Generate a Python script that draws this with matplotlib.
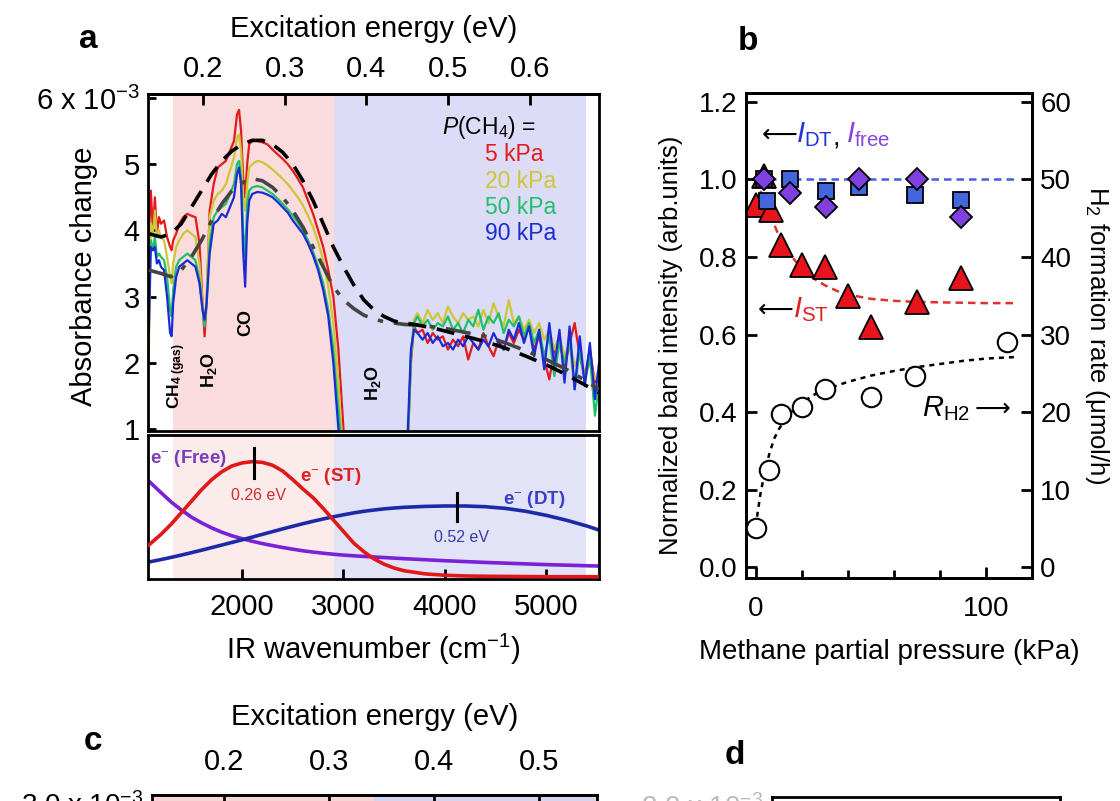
import matplotlib
matplotlib.use('Agg')
from matplotlib import pyplot as plt

plt.rcParams['font.family'] = ['Liberation Sans', 'DejaVu Sans']
plt.rcParams['mathtext.fontset'] = 'custom'
plt.rcParams['mathtext.rm'] = 'Liberation Sans'
plt.rcParams['mathtext.it'] = 'Liberation Sans:italic'
plt.rcParams['mathtext.bf'] = 'Liberation Sans:bold'

# ---------------- panel a: IR spectra (absorbance change, x 10^-3) ----------------
wn_left = [1080, 1100, 1120, 1140, 1160, 1180, 1200, 1230, 1260, 1290, 1305, 1320, 1350, 1380,
           1420, 1460, 1500, 1540, 1580, 1610, 1630, 1650, 1680, 1720, 1760, 1800, 1840, 1880,
           1920, 1950, 1970, 1990, 2010, 2030, 2050, 2070, 2100, 2150, 2200, 2250, 2300, 2350,
           2400, 2450, 2500, 2550, 2600, 2650, 2700, 2750, 2800, 2850, 2900, 2950, 3000, 3050]
abs_5kpa_left = [3.9, 4.6, 4.0, 4.5, 3.95, 4.2, 4.1, 4.15, 3.9, 3.75, 3.7, 3.85, 3.95, 4.1,
                 4.2, 4.25, 4.22, 4.2, 3.8, 2.9, 2.4, 2.9, 4.3, 4.7, 4.95, 5.0, 5.05, 5.2,
                 5.35, 5.75, 5.82, 5.5, 4.8, 4.5, 5.0, 5.3, 5.35, 5.35, 5.33, 5.3, 5.22, 5.15,
                 5.08, 5.0, 4.9, 4.78, 4.65, 4.45, 4.25, 4.0, 3.75, 3.4, 3.0, 2.2, 1.0, 0.2]
abs_20kpa_left = [2.1, 4.1, 3.95, 4.3, 3.9, 4.0, 3.9, 3.85, 3.6, 3.3, 3.2, 3.5, 3.75, 3.85,
                  3.95, 4.0, 3.95, 3.9, 3.5, 2.9, 2.6, 3.0, 4.2, 4.45, 4.55, 4.6, 4.7, 4.9,
                  5.1, 5.4, 5.45, 5.2, 4.5, 4.3, 4.7, 4.95, 5.0, 5.05, 5.03, 4.98, 4.92, 4.85,
                  4.78, 4.7, 4.6, 4.5, 4.38, 4.22, 4.05, 3.82, 3.55, 3.15, 2.6, 1.7, 0.5, 0.2]
abs_50kpa_left = [3.2, 3.85, 3.7, 3.9, 3.6, 3.65, 3.6, 3.55, 3.3, 2.8, 2.7, 3.1, 3.45, 3.55,
                  3.6, 3.65, 3.6, 3.55, 3.25, 2.8, 2.55, 2.9, 3.8, 4.2, 4.3, 4.35, 4.4, 4.55,
                  4.7, 5.0, 5.05, 4.8, 4.0, 3.6, 4.4, 4.6, 4.65, 4.67, 4.65, 4.6, 4.55, 4.48,
                  4.4, 4.32, 4.22, 4.12, 4.0, 3.85, 3.68, 3.45, 3.2, 2.8, 2.2, 1.3, 0.4, 0.2]
abs_90kpa_left = [2.45, 3.75, 3.7, 3.75, 3.5, 3.55, 3.45, 3.4, 3.0, 2.45, 2.4, 2.9, 3.3, 3.45,
                  3.5, 3.55, 3.5, 3.45, 3.2, 2.8, 2.65, 2.9, 3.65, 4.1, 4.15, 4.25, 4.2, 4.35,
                  4.5, 4.85, 4.95, 4.7, 3.7, 3.15, 4.1, 4.45, 4.55, 4.58, 4.57, 4.54, 4.5, 4.43,
                  4.35, 4.27, 4.15, 4.05, 3.95, 3.8, 3.62, 3.4, 3.1, 2.7, 2.0, 1.0, 0.3, 0.2]

wn_right = [3620, 3640, 3665, 3695, 3730, 3780, 3830, 3880, 3930, 3980, 4030, 4080, 4130, 4180,
            4230, 4280, 4330, 4380, 4430, 4480, 4530, 4580, 4630, 4680, 4730, 4780, 4830, 4880,
            4930, 4980, 5030, 5080, 5130, 5180, 5230, 5280, 5330, 5380, 5430, 5480, 5520]
abs_5kpa_right = [0.5, 1.0, 2.0, 2.55, 2.45, 2.5, 2.3, 2.45, 2.35, 2.4, 2.2, 2.35, 2.25, 2.4,
                  2.05, 2.3, 2.2, 2.45, 2.25, 2.1, 2.35, 2.2, 2.45, 2.3, 2.5, 2.35, 2.55, 2.2,
                  2.4, 2.05, 1.75, 2.2, 2.4, 1.9, 2.3, 2.6, 2.1, 1.8, 2.2, 1.7, 1.9]
abs_20kpa_right = [0.5, 1.0, 2.1, 2.65, 2.75, 2.6, 2.8, 2.65, 2.75, 2.6, 2.85, 2.7, 2.6, 2.75,
                   2.65, 2.7, 2.55, 2.8, 2.6, 2.9, 2.7, 2.55, 2.95, 2.6, 2.7, 2.5, 2.65, 2.45,
                   2.6, 2.35, 2.5, 2.2, 2.4, 2.1, 2.3, 1.95, 2.15, 1.8, 2.0, 1.75, 1.9]
abs_50kpa_right = [0.5, 1.0, 2.1, 2.6, 2.7, 2.55, 2.65, 2.5, 2.6, 2.55, 2.7, 2.5, 2.6, 2.45,
                   2.65, 2.55, 2.8, 2.5, 2.7, 2.6, 2.75, 2.45, 2.65, 2.55, 2.7, 2.4, 2.6, 2.3,
                   2.5, 2.1, 2.4, 1.8, 2.3, 2.0, 2.35, 1.6, 2.2, 1.7, 2.1, 1.2, 1.7]
abs_90kpa_right = [0.5, 1.2, 2.2, 2.5, 2.45, 2.35, 2.45, 2.3, 2.4, 2.25, 2.3, 2.2, 2.35, 2.25,
                   2.4, 2.3, 2.2, 2.35, 2.25, 2.45, 2.3, 2.2, 2.5, 2.35, 2.6, 2.3, 2.55, 2.1,
                   2.5, 1.9, 2.6, 1.95, 2.5, 1.7, 2.55, 1.6, 2.4, 1.65, 2.3, 1.45, 2.0]

pressure_labels = ['5 kPa', '20 kPa', '50 kPa', '90 kPa']
spectrum_colors = ['#e31a1c', '#cdc636', '#1fc06a', '#1a2bd6']

# fitted envelopes (dashed / dash-dot)
fit_wn = [1080, 1200, 1300, 1400, 1500, 1600, 1700, 1800, 1900, 2000, 2100, 2200, 2300, 2400,
          2500, 2600, 2700, 2800, 2900, 3000, 3100, 3200, 3300, 3400, 3500, 3600, 3700, 3800,
          3900, 4000, 4200, 4400, 4600, 4800, 5000, 5200, 5400, 5520]
fit_dash = [3.95, 3.9, 3.95, 4.1, 4.35, 4.6, 4.85, 5.05, 5.2, 5.3, 5.36, 5.36, 5.3, 5.18,
            5.0, 4.75, 4.45, 4.1, 3.75, 3.45, 3.18, 2.95, 2.8, 2.7, 2.63, 2.6, 2.58, 2.55,
            2.52, 2.48, 2.4, 2.32, 2.22, 2.1, 1.97, 1.82, 1.65, 1.55]
fit_dashdot = [3.4, 3.35, 3.3, 3.4, 3.6, 3.85, 4.15, 4.4, 4.6, 4.72, 4.78, 4.75, 4.65, 4.5,
               4.3, 4.05, 3.75, 3.45, 3.15, 2.95, 2.82, 2.72, 2.66, 2.62, 2.6, 2.58, 2.57, 2.56,
               2.54, 2.52, 2.46, 2.4, 2.3, 2.18, 2.05, 1.9, 1.72, 1.6]

# component bands (lower part of panel a, arb. units)
comp_wn = [1080, 1200, 1300, 1400, 1500, 1600, 1700, 1800, 1900, 2000, 2100, 2200, 2300, 2400,
           2500, 2600, 2700, 2800, 2900, 3000, 3100, 3200, 3300, 3400, 3500, 3600, 3800, 4000,
           4200, 4400, 4600, 4800, 5000, 5200, 5400, 5520]
band_st = [0.236, 0.31, 0.38, 0.46, 0.54, 0.62, 0.69, 0.745, 0.785, 0.806, 0.815, 0.81, 0.79, 0.75,
           0.69, 0.625, 0.565, 0.49, 0.41, 0.33, 0.25, 0.19, 0.14, 0.103, 0.076, 0.057, 0.036, 0.026,
           0.021, 0.019, 0.018, 0.017, 0.016, 0.016, 0.016, 0.016]
band_dt = [0.118, 0.135, 0.15, 0.166, 0.183, 0.2, 0.218, 0.236, 0.254, 0.272, 0.291, 0.31, 0.329, 0.348,
           0.366, 0.384, 0.401, 0.417, 0.432, 0.446, 0.459, 0.47, 0.479, 0.487, 0.493, 0.498, 0.504, 0.507,
           0.507, 0.502, 0.49, 0.47, 0.442, 0.408, 0.368, 0.34]
band_free = [0.68, 0.6, 0.535, 0.48, 0.43, 0.39, 0.355, 0.325, 0.3, 0.28, 0.262, 0.246, 0.232, 0.219,
             0.207, 0.196, 0.187, 0.179, 0.172, 0.166, 0.161, 0.157, 0.153, 0.149, 0.145, 0.141, 0.134, 0.127,
             0.121, 0.115, 0.11, 0.105, 0.1, 0.096, 0.092, 0.09]

# ---------------- panel b: pressure dependence ----------------
p_st = [0, 3.5, 6.5, 11, 20, 30, 40, 50, 70, 89]
i_st = [0.935, 1.01, 0.92, 0.83, 0.78, 0.775, 0.70, 0.62, 0.685, 0.745]
p_dt = [3.5, 5, 15, 30.5, 45, 69, 89]
i_dt = [1.0, 0.945, 1.0, 0.97, 0.98, 0.96, 0.947]
p_free = [3.5, 15, 30.5, 45, 70, 89]
i_free = [1.0, 0.965, 0.93, 1.0, 1.0, 0.903]
p_h2 = [0, 5.5, 11, 20, 30, 50, 69, 109]
r_h2 = [5.0, 12.5, 19.7, 20.7, 23.0, 22.0, 24.7, 29.1]

fit_p = [0, 2, 5, 10, 15, 20, 25, 30, 35, 40, 50, 60, 70, 80, 90, 100, 113]
st_fit = [1.0, 0.97, 0.925, 0.855, 0.805, 0.77, 0.745, 0.727, 0.713, 0.703, 0.692, 0.687, 0.684,
          0.683, 0.682, 0.681, 0.681]
dt_fit_p = [0, 113]
dt_fit = [1.0, 1.0]
h2_fit_p = [0.5, 2, 4, 6, 8, 10, 13, 16, 20, 25, 30, 40, 50, 60, 70, 80, 90, 100, 113]
h2_fit = [6.5, 9.5, 12.5, 14.8, 16.6, 17.8, 19.2, 20.2, 21.2, 22.2, 22.9, 23.9, 24.7, 25.3, 25.8,
          26.2, 26.6, 26.9, 27.1]

W, H = 1120, 801


def px_rect(left, top, right, bottom):
    """Axes rectangle in figure fractions from pixel edges."""
    return [left / W, 1 - bottom / H, (right - left) / W, (bottom - top) / H]


def wn_to_ev(w):
    return w * 1.23984e-4


def ev_to_wn(e):
    return e / 1.23984e-4


def style_spines(ax, lw=2.0):
    for sp in ax.spines.values():
        sp.set_linewidth(lw)


fig = plt.figure(figsize=(W / 100, H / 100), dpi=100)

# ---- panel a, upper: spectra ----
ax_a = fig.add_axes(px_rect(148, 94, 599, 431))
ax_a.axvspan(1319, 2908, color='#fadcdc', lw=0, zorder=0)
ax_a.axvspan(2908, 5396, color='#dcdcf6', lw=0, zorder=0)
lefts = [abs_5kpa_left, abs_20kpa_left, abs_50kpa_left, abs_90kpa_left]
rights = [abs_5kpa_right, abs_20kpa_right, abs_50kpa_right, abs_90kpa_right]
for vals_l, vals_r, c in zip(lefts, rights, spectrum_colors):
    ax_a.plot(wn_left, vals_l, color=c, lw=1.6, zorder=2)
    ax_a.plot(wn_right, vals_r, color=c, lw=1.6, zorder=2)
ax_a.plot(fit_wn, fit_dashdot, color='#444444', lw=2.6, dashes=(7, 3, 1.5, 3), zorder=3)
ax_a.plot(fit_wn, fit_dash, color='black', lw=2.6, dashes=(5, 3), zorder=3)
ax_a.set_xlim(1072, 5520)
ax_a.set_ylim(0.97, 6.06)
ax_a.set_xticks([])
ax_a.set_yticks([1, 2, 3, 4, 5, 6])
ax_a.set_yticklabels(['1', '2', '3', '4', '5', '6 x 10$^{-3}$'])
ax_a.tick_params(axis='y', direction='in', length=6, width=2, labelsize=21, pad=6)
ax_a.set_ylabel('Absorbance change', fontsize=21)
ax_a.yaxis.set_label_coords(-0.11, 0.46)
style_spines(ax_a)

top = ax_a.secondary_xaxis('top', functions=(wn_to_ev, ev_to_wn))
top.set_xticks([0.2, 0.3, 0.4, 0.5, 0.6])
top.set_xticklabels(['0.2', '0.3', '0.4', '0.5', '0.6'])
top.tick_params(direction='in', length=8, width=2, labelsize=21, pad=8)
top.set_xlabel('Excitation energy (eV)', fontsize=21, labelpad=13)
top.spines['top'].set_linewidth(2)

# band annotations
ax_a.text(1355, 1.80, r'$\mathbf{CH_{4\ (gas)}}$', rotation=90, ha='center', va='center', fontsize=12.5)
ax_a.text(1673, 1.89, r'$\mathbf{H_2O}$', rotation=90, ha='center', va='center', fontsize=13)
ax_a.text(2037, 2.61, 'CO', rotation=90, ha='center', va='center', fontsize=13, fontweight='bold')
ax_a.text(3290, 1.69, r'$\mathbf{H_2O}$', rotation=90, ha='center', va='center', fontsize=13)

# pressure legend
ax_a.text(3974, 5.56, r'$P$(CH$_4$) =', ha='left', va='center', fontsize=16.5)
for k, (lab, c) in enumerate(zip(pressure_labels, spectrum_colors)):
    ax_a.text(4399, 5.14 - 0.395 * k, lab, color=c, ha='left', va='center', fontsize=16.5)

# ---- panel a, lower: component bands ----
ax_b2 = fig.add_axes(px_rect(148, 435, 599, 579))
ax_b2.axvspan(1319, 2908, color='#fcebeb', lw=0, zorder=0)
ax_b2.axvspan(2908, 5396, color='#e3e3f8', lw=0, zorder=0)
ax_b2.plot(comp_wn, band_free, color='#7a22d8', lw=2.6, zorder=2)
ax_b2.plot(comp_wn, band_dt, color='#1c2aa8', lw=2.6, zorder=2)
ax_b2.plot(comp_wn, band_st, color='#e01818', lw=2.6, zorder=3)
ax_b2.plot([2120, 2120], [0.70, 0.91], color='black', lw=2.2, zorder=4)
ax_b2.plot([4120, 4120], [0.40, 0.60], color='black', lw=2.2, zorder=4)
ax_b2.set_xlim(1072, 5520)
ax_b2.set_ylim(0, 1)
ax_b2.set_yticks([])
ax_b2.set_xticks([2000, 3000, 4000, 5000])
ax_b2.tick_params(axis='x', direction='in', length=7, width=2, labelsize=21, pad=10)
ax_b2.set_xlabel('IR wavenumber (cm$^{-1}$)', fontsize=21, labelpad=8)
style_spines(ax_b2)
ax_b2.text(1092, 0.84, 'e$^{-}$ (Free)', color='#7a3db8', fontsize=13.5, fontweight='bold', va='center')
ax_b2.text(2572, 0.71, 'e$^{-}$ (ST)', color='#e02020', fontsize=13.5, fontweight='bold', va='center')
ax_b2.text(2158, 0.58, '0.26 eV', color='#d42a2a', fontsize=11.5, ha='center', va='center')
ax_b2.text(4576, 0.55, 'e$^{-}$ (DT)', color='#3a3ec8', fontsize=13.5, fontweight='bold', va='center')
ax_b2.text(4162, 0.285, '0.52 eV', color='#3a3aa8', fontsize=11.5, ha='center', va='center')

# ---- panel b ----
ax_c = fig.add_axes(px_rect(746, 93, 1032, 578))
ax_c.plot(dt_fit_p, dt_fit, color='#4a5be0', lw=1.8, dashes=(3, 2), zorder=2)
ax_c.plot(fit_p, st_fit, color='#e03030', lw=1.8, dashes=(3, 2), zorder=2)
ax_c.plot(p_st, i_st, ls='none', marker='^', ms=17, mfc='#e8141c', mec='black', mew=1.3, zorder=3)
ax_c.plot(p_dt, i_dt, ls='none', marker='s', ms=12, mfc='#4466dd', mec='black', mew=1.3, zorder=4)
ax_c.plot(p_free, i_free, ls='none', marker='D', ms=11, mfc='#8040e0', mec='black', mew=1.3, zorder=5)
ax_c.set_xlim(-4.3, 120)
ax_c.set_ylim(-0.028, 1.223)
ax_c.set_yticks([0.0, 0.2, 0.4, 0.6, 0.8, 1.0, 1.2])
ax_c.set_yticklabels(['0.0', '0.2', '0.4', '0.6', '0.8', '1.0', '1.2'])
ax_c.set_xticks([0, 100])
ax_c.set_xticks([20, 40, 60, 80], minor=True)
ax_c.tick_params(axis='x', which='major', direction='in', length=8, width=2, labelsize=20, pad=13)
ax_c.tick_params(axis='x', which='minor', direction='in', length=6, width=2)
ax_c.tick_params(axis='y', direction='in', length=8, width=2, labelsize=20, pad=6)
ax_c.set_xlabel('Methane partial pressure (kPa)', fontsize=20, labelpad=12)
ax_c.set_ylabel('Normalized band intensity (arb.units)', fontsize=18.5)
ax_c.yaxis.set_label_coords(-0.22, 0.48)
style_spines(ax_c)

ax_r = ax_c.twinx()
ax_r.plot(h2_fit_p, h2_fit, color='black', lw=1.8, dashes=(2, 2), zorder=2)
ax_r.plot(p_h2, r_h2, ls='none', marker='o', ms=14, mfc='white', mec='black', mew=1.5, zorder=3)
ax_r.set_ylim(-1.4, 61.15)
ax_r.set_yticks([0, 10, 20, 30, 40, 50, 60])
ax_r.tick_params(axis='y', direction='in', length=8, width=2, labelsize=20, pad=6)
ax_r.set_ylabel('H$_2$ formation rate (μmol/h)', fontsize=18.5, rotation=270)
ax_r.yaxis.set_label_coords(1.275, 0.5)
style_spines(ax_r)

# arrow annotations: arrows end before the symbols start
ax_c.text(2.5, 1.115, '\u27f5', fontsize=18, ha='left', va='center')
ax_c.text(17.5, 1.115, r'$I_{\mathrm{DT}}$', color='#2233dd', fontsize=21, ha='left', va='center')
ax_c.text(33.5, 1.105, ',', fontsize=19, ha='left', va='center')
ax_c.text(39, 1.115, r'$I_{\mathrm{free}}$', color='#8844dd', fontsize=21, ha='left', va='center')
ax_c.text(1.0, 0.664, '\u27f5', fontsize=18, ha='left', va='center')
ax_c.text(16, 0.664, r'$I_{\mathrm{ST}}$', color='#e02020', fontsize=21, ha='left', va='center')
ax_c.text(72, 0.409, r'$R_{\mathrm{H2}}$', fontsize=21, ha='left', va='center')
ax_c.text(95, 0.409, '\u27f6', fontsize=18, ha='left', va='center')

# ---- panels c and d (cut off at the bottom edge) ----
narrow = ['Liberation Sans Narrow', 'Liberation Sans', 'DejaVu Sans']
ax_d = fig.add_axes(px_rect(152, 795, 597, 1100))
ax_d.axvspan(1060, 2766, color='#f7d5d5', lw=0, zorder=0)
ax_d.axvspan(2766, 4478, color='#d5d5f2', lw=0, zorder=0)
ax_d.set_xlim(1060, 4478)
ax_d.set_ylim(0, 3.08)
ax_d.set_xticks([])
ax_d.set_yticks([3.0])
ax_d.set_yticklabels(['3.0 x 10$^{-3}$'], family=narrow)
ax_d.tick_params(axis='y', direction='in', length=6, width=2, labelsize=20, pad=6)
style_spines(ax_d)
top_c = ax_d.secondary_xaxis('top', functions=(wn_to_ev, ev_to_wn))
top_c.set_xticks([0.2, 0.3, 0.4, 0.5])
top_c.set_xticklabels(['0.2', '0.3', '0.4', '0.5'], family=narrow)
top_c.tick_params(direction='in', length=10, width=2, labelsize=21, pad=14)
top_c.set_xlabel('Excitation energy (eV)', fontsize=21, labelpad=16, family=narrow)
top_c.spines['top'].set_linewidth(2)

ax_e = fig.add_axes(px_rect(772, 797, 1060, 1100))
ax_e.set_xticks([])
ax_e.set_ylim(0, 3.08)
ax_e.set_yticks([3.0])
ax_e.set_yticklabels(['2.0 x 10$^{-3}$'], family=narrow, color='#bbbbbb')
ax_e.tick_params(axis='y', direction='in', length=6, width=2, labelsize=20, pad=6)
style_spines(ax_e)

# panel letters
fig.text(88 / W, 1 - 40 / H, 'a', fontsize=24, fontweight='bold', ha='center', va='center')
fig.text(748 / W, 1 - 42 / H, 'b', fontsize=24, fontweight='bold', ha='center', va='center')
fig.text(93 / W, 1 - 742 / H, 'c', fontsize=24, fontweight='bold', ha='center', va='center', family=narrow)
fig.text(735 / W, 1 - 755 / H, 'd', fontsize=24, fontweight='bold', ha='center', va='center', family=narrow)

fig.savefig('out.png', dpi=100)
